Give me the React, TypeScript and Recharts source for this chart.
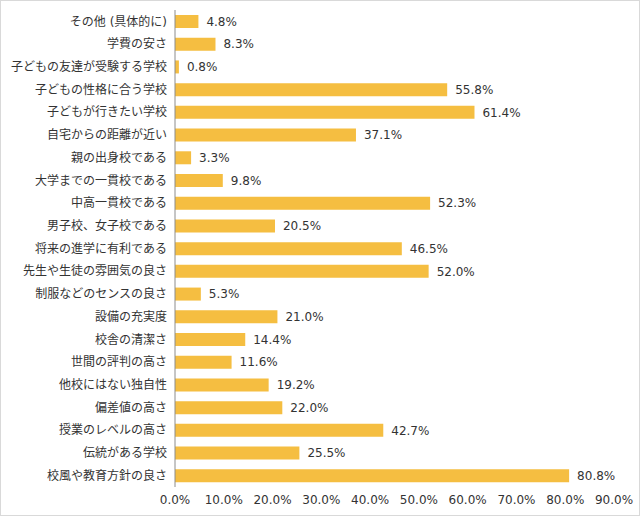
import { BarChart, Bar, XAxis, YAxis, LabelList } from 'recharts'

const categories = [
  'その他 (具体的に)',
  '学費の安さ',
  '子どもの友達が受験する学校',
  '子どもの性格に合う学校',
  '子どもが行きたい学校',
  '自宅からの距離が近い',
  '親の出身校である',
  '大学までの一貫校である',
  '中高一貫校である',
  '男子校、女子校である',
  '将来の進学に有利である',
  '先生や生徒の雰囲気の良さ',
  '制服などのセンスの良さ',
  '設備の充実度',
  '校舎の清潔さ',
  '世間の評判の高さ',
  '他校にはない独自性',
  '偏差値の高さ',
  '授業のレベルの高さ',
  '伝統がある学校',
  '校風や教育方針の良さ',
]

const values = [
  4.8, 8.3, 0.8, 55.8, 61.4, 37.1, 3.3, 9.8, 52.3, 20.5, 46.5, 52.0, 5.3, 21.0, 14.4, 11.6, 19.2, 22.0,
  42.7, 25.5, 80.8,
]

const xTicks = [0, 10, 20, 30, 40, 50, 60, 70, 80, 90]

const data = categories.map((name, i) => ({ name, value: values[i] }))

const font = '"DejaVu Sans", "Noto Sans CJK JP", sans-serif'

export default function App() {
  return (
    <div
      style={{
        position: 'absolute',
        left: 0,
        top: 0,
        width: 640,
        height: 516,
        border: '1px solid #d9d9d9',
        boxSizing: 'border-box',
        fontFamily: font,
        background: '#fff',
      }}
    >
      <BarChart
        width={638}
        height={514}
        data={data}
        layout="vertical"
        margin={{ top: 9, right: 25, left: 0, bottom: 4 }}
      >
        <XAxis
          type="number"
          domain={[0, 90]}
          ticks={xTicks}
          tickFormatter={v => `${v.toFixed(1)}%`}
          axisLine={false}
          tickLine={false}
          height={24}
          tick={{ fontSize: 12, fill: '#333', fontFamily: font }}
        />
        <YAxis
          type="category"
          dataKey="name"
          width={174}
          interval={0}
          tickLine={false}
          axisLine={{ stroke: '#8c8c8c' }}
          tick={{ fontSize: 12, fill: '#333', fontFamily: font }}
        />
        <Bar dataKey="value" fill="#F5BE41" barSize={13} isAnimationActive={false}>
          <LabelList
            dataKey="value"
            position="right"
            offset={8}
            formatter={(v: any) => `${Number(v).toFixed(1)}%`}
            style={{ fontSize: 12, fill: '#333', fontFamily: font }}
          />
        </Bar>
      </BarChart>
    </div>
  )
}
